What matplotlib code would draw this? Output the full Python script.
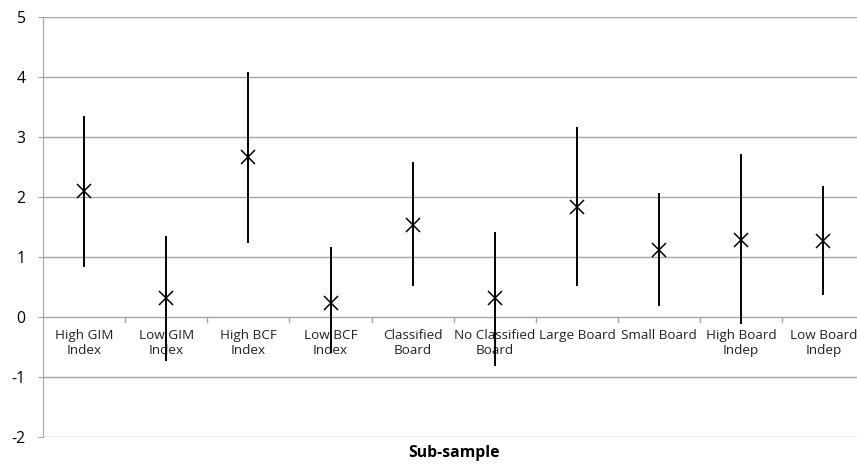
import matplotlib
matplotlib.use('Agg')
import matplotlib.pyplot as plt
import numpy as np

plt.rcParams['font.family'] = ['Open Sans', 'DejaVu Sans']

categories = ['High GIM\nIndex', 'Low GIM\nIndex', 'High BCF\nIndex', 'Low BCF\nIndex',
              'Classified\nBoard', 'No Classified\nBoard', 'Large Board', 'Small Board',
              'High Board\nIndep', 'Low Board\nIndep']
means = [2.10, 0.32, 2.66, 0.24, 1.54, 0.31, 1.84, 1.12, 1.29, 1.27]
upper = [3.35, 1.35, 4.08, 1.17, 2.59, 1.42, 3.16, 2.06, 2.71, 2.19]
lower = [0.84, -0.74, 1.24, -0.60, 0.51, -0.81, 0.52, 0.18, -0.11, 0.37]
y_ticks = [-2, -1, 0, 1, 2, 3, 4, 5]

fig = plt.figure(figsize=(8.57, 4.68), dpi=100)
ax = fig.add_axes([0.0502, 0.0662, 0.9498, 0.8975])

x = np.arange(len(categories))
grid_col = '#a6a6a6'

for t in y_ticks:
    ax.axhline(t, color=grid_col, lw=1.0, zorder=1)

ax.vlines(x, lower, upper, color='black', lw=1.4, zorder=3)
ax.plot(x, means, linestyle='none', marker='x', color='black',
        markersize=9.5, markeredgewidth=1.1, zorder=4)

ax.set_ylim(-2, 5)
ax.set_xlim(-0.5, 9.41)
ax.set_yticks(y_ticks)
ax.set_yticklabels([str(t) for t in y_ticks], fontsize=11.3)
ax.tick_params(axis='y', length=3.6, color=grid_col, pad=9)
ax.set_xticks([])

for s in ['top', 'right', 'bottom']:
    ax.spines[s].set_visible(False)
ax.spines['left'].set_color(grid_col)

# category axis crossing at zero, with tick marks between categories
for b in np.arange(0.5, 9.5, 1.0):
    ax.plot([b, b], [0, -0.08], color=grid_col, lw=1.0, clip_on=False, zorder=2)
for xi, lab in zip(x, categories):
    ax.text(xi, -0.2, lab, ha='center', va='top', fontsize=9.7,
            linespacing=1.2, color='#222222', zorder=2)

ax.text(4.5, -2.27, 'Sub-sample', ha='center', va='center', fontsize=11.3,
        fontweight='bold', clip_on=False)

fig.savefig('out.png', dpi=100)
